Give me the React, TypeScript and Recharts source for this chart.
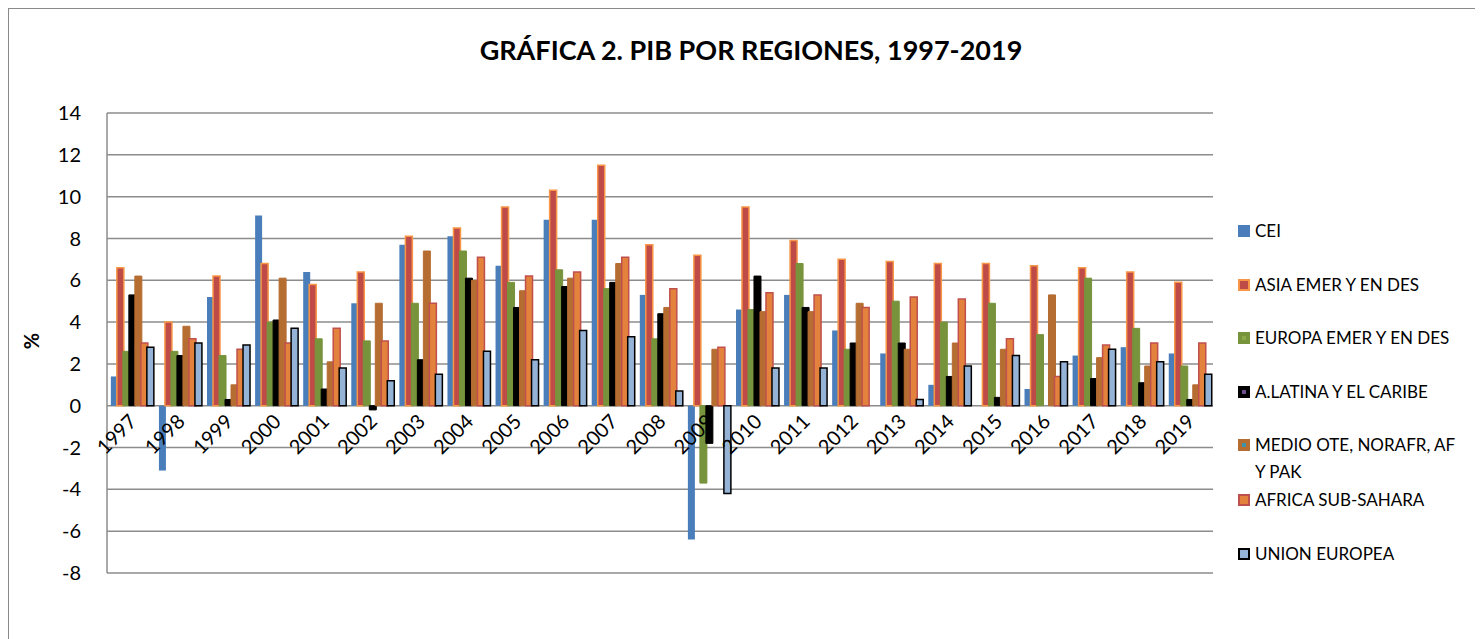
import { BarChart, Bar, XAxis, YAxis, CartesianGrid } from 'recharts';

const years = [
  '1997', '1998', '1999', '2000', '2001', '2002', '2003', '2004', '2005', '2006', '2007', '2008',
  '2009', '2010', '2011', '2012', '2013', '2014', '2015', '2016', '2017', '2018', '2019',
];

// PIB, % de variación anual
const cei = [1.4, -3.1, 5.2, 9.1, 6.4, 4.9, 7.7, 8.1, 6.7, 8.9, 8.9, 5.3, -6.4, 4.6, 5.3, 3.6, 2.5, 1.0, null, 0.8, 2.4, 2.8, 2.5];
const asia = [6.6, 4.0, 6.2, 6.8, 5.8, 6.4, 8.1, 8.5, 9.5, 10.3, 11.5, 7.7, 7.2, 9.5, 7.9, 7.0, 6.9, 6.8, 6.8, 6.7, 6.6, 6.4, 5.9];
const europa = [2.6, 2.6, 2.4, 4.0, 3.2, 3.1, 4.9, 7.4, 5.9, 6.5, 5.6, 3.2, -3.7, 4.6, 6.8, 2.7, 5.0, 4.0, 4.9, 3.4, 6.1, 3.7, 1.9];
const latina = [5.3, 2.4, 0.3, 4.1, 0.8, -0.2, 2.2, 6.1, 4.7, 5.7, 5.9, 4.4, -1.8, 6.2, 4.7, 3.0, 3.0, 1.4, 0.4, null, 1.3, 1.1, 0.3];
const medioOte = [6.2, 3.8, 1.0, 6.1, 2.1, 4.9, 7.4, 6.0, 5.5, 6.1, 6.8, 4.7, 2.7, 4.5, 4.5, 4.9, 2.7, 3.0, 2.7, 5.3, 2.3, 1.9, 1.0];
const africa = [3.0, 3.2, 2.7, 3.0, 3.7, 3.1, 4.9, 7.1, 6.2, 6.4, 7.1, 5.6, 2.8, 5.4, 5.3, 4.7, 5.2, 5.1, 3.2, 1.4, 2.9, 3.0, 3.0];
const ue = [2.8, 3.0, 2.9, 3.7, 1.8, 1.2, 1.5, 2.6, 2.2, 3.6, 3.3, 0.7, -4.2, 1.8, 1.8, null, 0.3, 1.9, 2.4, 2.1, 2.7, 2.1, 1.5];

const yTicks = [-8, -6, -4, -2, 0, 2, 4, 6, 8, 10, 12, 14];
const Y_MIN = -8;
const Y_MAX = 14;

const series = [
  { key: 'cei', name: 'CEI', values: cei, fill: '#4A7EBB', stroke: 'none', sw: 0 },
  { key: 'asia', name: 'ASIA EMER Y EN DES', values: asia, fill: '#BE4B48', stroke: '#F79646', sw: 1.5 },
  { key: 'europa', name: 'EUROPA EMER Y EN DES', values: europa, fill: '#77933C', stroke: '#77933C', sw: 1 },
  { key: 'latina', name: 'A.LATINA Y EL CARIBE', values: latina, fill: '#000000', stroke: '#000000', sw: 1 },
  { key: 'medio', name: 'MEDIO OTE, NORAFR, AF Y PAK', values: medioOte, fill: '#B66D31', stroke: '#B66D31', sw: 1 },
  { key: 'africa', name: 'AFRICA SUB-SAHARA', values: africa, fill: '#E3823C', stroke: '#C0504D', sw: 1.5 },
  { key: 'ue', name: 'UNION EUROPEA', values: ue, fill: '#95B3D7', stroke: '#000000', sw: 1.5 },
];

const legendIcons = [
  { fill: '#4A7EBB', border: '#4A7EBB', inner: '#4A7EBB' },
  { fill: '#BE4B48', border: '#F79646', inner: '#BE4B48' },
  { fill: '#77933C', border: '#77933C', inner: '#8AAA4A' },
  { fill: '#000000', border: '#000000', inner: '#6F4F8F' },
  { fill: '#B66D31', border: '#B66D31', inner: '#3D93A8' },
  { fill: '#E3823C', border: '#C0504D', inner: '#E3823C' },
  { fill: '#95B3D7', border: '#000000', inner: '#95B3D7' },
];

const data = years.map((year, i) => {
  const row: Record<string, any> = { year };
  series.forEach((s) => {
    row[s.key] = s.values[i];
  });
  return row;
});

const CHART_W = 1466;
const CHART_H = 631;
const MARGIN = { top: 104, right: 262, bottom: 37, left: 0 };
const XAXIS_H = 30;
const PLOT_H = CHART_H - MARGIN.top - MARGIN.bottom - XAXIS_H;
const ZERO_Y = MARGIN.top + (PLOT_H * Y_MAX) / (Y_MAX - Y_MIN);

const font = 'Lato, "Open Sans", sans-serif';

const YearTick = (props: any) => {
  const { x, payload } = props;
  const tx = x + 7;
  const ty = ZERO_Y + 17;
  return (
    <text
      x={tx}
      y={ty}
      transform={`rotate(-45 ${tx} ${ty})`}
      textAnchor="end"
      fontSize={20}
      fontFamily={font}
      fill="#000"
    >
      {payload.value}
    </text>
  );
};

const App = () => {
  return (
    <div
      style={{
        position: 'relative',
        width: 1470,
        height: 640,
        boxSizing: 'border-box',
        border: '1px solid #8a8a8a',
        fontFamily: font,
      }}
    >
      <div
        style={{
          position: 'absolute',
          left: 0,
          width: 1484,
          top: 24,
          textAlign: 'center',
          fontSize: 27,
          fontWeight: 700,
          color: '#000',
        }}
      >
        GRÁFICA 2. PIB POR REGIONES, 1997-2019
      </div>
      <div
        style={{
          position: 'absolute',
          left: 14,
          top: 320,
          fontSize: 20,
          fontWeight: 700,
          transform: 'rotate(-90deg)',
        }}
      >
        %
      </div>
      <BarChart
        width={CHART_W}
        height={CHART_H}
        data={data}
        margin={MARGIN}
        barCategoryGap="8%"
        barGap={-1}
      >
        <CartesianGrid vertical={false} stroke="#8c8c8c" strokeWidth={1.5} />
        <XAxis
          dataKey="year"
          height={XAXIS_H}
          axisLine={false}
          tickLine={false}
          interval={0}
          tick={<YearTick />}
        />
        <YAxis
          width={98}
          domain={[Y_MIN, Y_MAX]}
          ticks={yTicks}
          interval={0}
          axisLine={{ stroke: '#8c8c8c', strokeWidth: 1.5 }}
          tickLine={false}
          tickMargin={20}
          tick={{ fill: '#000', fontSize: 20, fontFamily: font }}
        />
        {series.map((s) => (
          <Bar
            key={s.key}
            dataKey={s.key}
            name={s.name}
            fill={s.fill}
            stroke={s.stroke}
            strokeWidth={s.sw}
            isAnimationActive={false}
          />
        ))}
      </BarChart>
      <div style={{ position: 'absolute', left: 1229, top: 208 }}>
        {series.map((s, i) => {
          const icon = legendIcons[i];
          const twoLines = s.key === 'medio';
          return (
            <div
              key={s.key}
              style={{
                display: 'flex',
                alignItems: 'flex-start',
                height: twoLines ? 55 : 53.5,
              }}
            >
              <div
                style={{
                  width: 12,
                  height: 12,
                  marginTop: 8,
                  marginRight: 5,
                  boxSizing: 'border-box',
                  border: `2px solid ${icon.border}`,
                  background: icon.fill,
                  display: 'flex',
                  alignItems: 'center',
                  justifyContent: 'center',
                  flexShrink: 0,
                }}
              >
                <div style={{ width: 4, height: 4, background: icon.inner }} />
              </div>
              <div style={{ fontSize: 17, lineHeight: '27px', color: '#000', width: 230 }}>
                {twoLines ? (
                  <>
                    MEDIO OTE, NORAFR, AF
                    <br />Y PAK
                  </>
                ) : (
                  s.name
                )}
              </div>
            </div>
          );
        })}
      </div>
    </div>
  );
};

export default App;
